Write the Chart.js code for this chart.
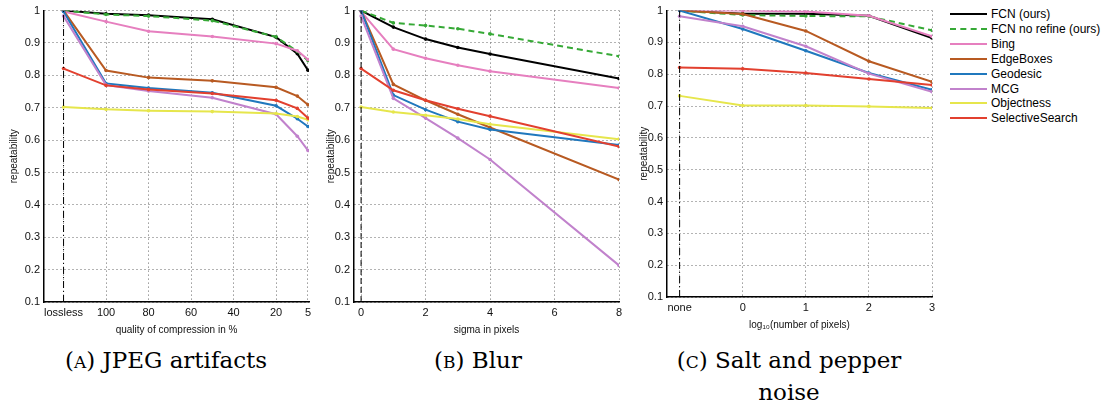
<!DOCTYPE html>
<html>
<head>
<meta charset="utf-8">
<script src="https://cdn.jsdelivr.net/npm/chart.js@4"></script>
<style>
  body { margin: 0; background: #fff; width: 1107px; height: 403px; position: relative; overflow: hidden; }
  canvas { position: absolute; top: 0; }
  .caption { position: absolute; font-family: "DejaVu Serif", "Liberation Serif", serif; font-size: 23px; color: #000; text-align: center; line-height: 30px; white-space: nowrap; }
  .sc { font-size: 17px; }
  #legend { position: absolute; left: 950px; top: 7px; font-family: "Liberation Sans", Arial, sans-serif; font-size: 12px; color: #000; }
  .item { height: 14.85px; display: flex; align-items: center; white-space: nowrap; }
  .swatch { width: 37px; height: 0; margin-right: 4px; }
</style>
</head>
<body>
<canvas id="jpeg"></canvas>
<canvas id="blur"></canvas>
<canvas id="noise"></canvas>
<div id="legend"></div>
<div class="caption" style="left:16px; top:345px; width:300px;">(<span class="sc">A</span>) JPEG artifacts</div>
<div class="caption" style="left:378px; top:345px; width:200px;">(<span class="sc">B</span>) Blur</div>
<div class="caption" style="left:659px; top:345px; width:260px;">(<span class="sc">C</span>) Salt and pepper<br>noise</div>
<script>
// methoden en kleuren
const methods = ["FCN (ours)", "FCN no refine (ours)", "Bing", "EdgeBoxes", "Geodesic", "MCG", "Objectness", "SelectiveSearch"];
const colors = ["#000000", "#36a936", "#e67fbf", "#b85a22", "#2078bd", "#c182cc", "#e6e64c", "#e2402f"];

// (A) JPEG: "lossless" staat op positie 120
const jpegX = [120, 100, 80, 50, 20, 10, 5];
const jpegTicks = [120, 100, 80, 60, 40, 20, 5];
const jpegTickLabels = ["lossless", "100", "80", "60", "40", "20", "5"];
const jpegFcn       = [1.000, 0.990, 0.986, 0.973, 0.918, 0.867, 0.816];
const jpegFcnNoRef  = [1.000, 0.988, 0.983, 0.969, 0.919, 0.874, 0.846];
const jpegBing      = [0.997, 0.966, 0.936, 0.920, 0.898, 0.876, 0.849];
const jpegEdge      = [1.000, 0.815, 0.793, 0.783, 0.763, 0.736, 0.709];
const jpegGeo       = [0.997, 0.775, 0.761, 0.746, 0.706, 0.666, 0.642];
const jpegMcg       = [0.983, 0.770, 0.752, 0.731, 0.680, 0.612, 0.568];
const jpegObj       = [0.702, 0.695, 0.691, 0.688, 0.682, 0.673, 0.663];
const jpegSel       = [0.821, 0.769, 0.756, 0.744, 0.723, 0.698, 0.668];

// (B) Blur
const blurX = [0, 1, 2, 3, 4, 8];
const blurTicks = [0, 2, 4, 6, 8];
const blurTickLabels = ["0", "2", "4", "6", "8"];
const blurFcn       = [1.000, 0.949, 0.912, 0.886, 0.866, 0.790];
const blurFcnNoRef  = [1.000, 0.962, 0.954, 0.944, 0.928, 0.859];
const blurBing      = [0.997, 0.881, 0.853, 0.831, 0.813, 0.761];
const blurEdge      = [1.000, 0.772, 0.723, 0.680, 0.639, 0.478];
const blurGeo       = [1.000, 0.739, 0.694, 0.657, 0.633, 0.585];
const blurMcg       = [0.983, 0.729, 0.668, 0.606, 0.540, 0.213];
const blurObj       = [0.702, 0.687, 0.677, 0.665, 0.649, 0.603];
const blurSel       = [0.821, 0.754, 0.723, 0.697, 0.674, 0.580];

// (C) Salt and pepper: "none" staat op positie -1
const noiseX = [-1, 0, 1, 2, 3];
const noiseTicks = [-1, 0, 1, 2, 3];
const noiseTickLabels = ["none", "0", "1", "2", "3"];
const noiseFcn      = [1.000, 0.990, 0.990, 0.984, 0.914];
const noiseFcnNoRef = [1.000, 0.986, 0.983, 0.982, 0.938];
const noiseBing     = [1.000, 1.000, 0.997, 0.984, 0.919];
const noiseEdge     = [1.000, 0.989, 0.936, 0.841, 0.776];
const noiseGeo      = [1.000, 0.942, 0.874, 0.804, 0.751];
const noiseMcg      = [0.982, 0.951, 0.888, 0.802, 0.745];
const noiseObj      = [0.732, 0.702, 0.702, 0.699, 0.694];
const noiseSel      = [0.821, 0.817, 0.804, 0.785, 0.766];

const fontFam = "'Liberation Sans', Arial, sans-serif";

function maakDatasets(xs, series, ref, refDash) {
    const sets = series.map((ys, i) => ({
        label: methods[i],
        data: xs.map((x, j) => ({ x: x, y: ys[j] })),
        borderColor: colors[i],
        backgroundColor: colors[i],
        borderWidth: 2,
        borderDash: i === 1 ? [6, 4] : [],
        pointRadius: 1.8,
        pointBorderWidth: 0,
        tension: 0
    }));
    // verticale referentielijn
    sets.push({
        label: "ref",
        data: [{ x: ref, y: 0.1 }, { x: ref, y: 1 }],
        borderColor: "#000",
        borderWidth: 1,
        borderDash: refDash,
        pointRadius: 0
    });
    return sets.reverse();
}

function maakGrafiek(id, box, xs, series, xOpts, ticks, tickLabels, title) {
    const cv = document.getElementById(id);
    cv.style.left = box.left + "px";
    cv.width = box.w;
    cv.height = box.h;
    cv.style.width = box.w + "px";
    cv.style.height = box.h + "px";
    new Chart(cv.getContext("2d"), {
        type: "line",
        data: { datasets: maakDatasets(xs, series, ticks[0], box.dash) },
        options: {
            responsive: false,
            animation: false,
            layout: { padding: { top: 9, right: box.right, left: 0, bottom: 0 } },
            plugins: { legend: { display: false }, tooltip: { enabled: false } },
            scales: {
                x: Object.assign({
                    type: "linear",
                    afterBuildTicks: (s) => { s.ticks = ticks.map((v) => ({ value: v })); },
                    afterFit: (s) => { s.height = box.xh; },
                    ticks: {
                        autoSkip: false,
                        maxRotation: 0,
                        padding: 4,
                        color: "#111",
                        font: { family: fontFam, size: 11 },
                        callback: (v) => tickLabels[ticks.indexOf(v)]
                    },
                    grid: { color: "#666", tickLength: 0, drawTicks: false },
                    border: { display: true, color: "#000", width: 1.5, dash: [1, 3] },
                    title: { display: true, text: title, color: "#111", padding: { top: 1 }, font: { family: fontFam, size: 10 } }
                }, xOpts),
                y: {
                    min: 0.1,
                    max: 1,
                    afterFit: (s) => { s.width = box.yw; },
                    ticks: {
                        stepSize: 0.1,
                        padding: 4,
                        color: "#111",
                        font: { family: fontFam, size: 11 },
                        callback: (v) => (Math.abs(v - 1) < 1e-6 ? "1" : v.toFixed(1))
                    },
                    grid: { color: "#666", tickLength: 0, drawTicks: false },
                    border: { display: true, color: "#000", width: 1.5, dash: [1, 3] },
                    title: { display: true, text: "repeatability", color: "#111", padding: { top: box.tp, bottom: 0 }, font: { family: fontFam, size: 10 } }
                }
            }
        }
    });
}

maakGrafiek("jpeg", { left: 0, w: 322, h: 340, right: 13, yw: 44, xh: 38, tp: 8, dash: [7, 3, 1, 3] }, jpegX,
    [jpegFcn, jpegFcnNoRef, jpegBing, jpegEdge, jpegGeo, jpegMcg, jpegObj, jpegSel],
    { reverse: true, min: 4.5, max: 129.2 }, jpegTicks, jpegTickLabels, "quality of compression in %");

maakGrafiek("blur", { left: 318, w: 312, h: 340, right: 11, yw: 36, xh: 38, tp: 7, dash: [6, 3] }, blurX,
    [blurFcn, blurFcnNoRef, blurBing, blurEdge, blurGeo, blurMcg, blurObj, blurSel],
    { min: -0.22, max: 8 }, blurTicks, blurTickLabels, "sigma in pixels");

maakGrafiek("noise", { left: 636, w: 306, h: 335, right: 10, yw: 31, xh: 38, tp: 2, dash: [7, 3, 1, 3] }, noiseX,
    [noiseFcn, noiseFcnNoRef, noiseBing, noiseEdge, noiseGeo, noiseMcg, noiseObj, noiseSel],
    { min: -1.2, max: 3 }, noiseTicks, noiseTickLabels, "log\u2081\u2080(number of pixels)");

// legenda
const legend = document.getElementById("legend");
methods.forEach((m, i) => {
    const row = document.createElement("div");
    row.className = "item";
    const sw = document.createElement("span");
    sw.className = "swatch";
    sw.style.borderTop = "2px " + (i === 1 ? "dashed " : "solid ") + colors[i];
    row.appendChild(sw);
    row.appendChild(document.createTextNode(m));
    legend.appendChild(row);
});
</script>
</body>
</html>
